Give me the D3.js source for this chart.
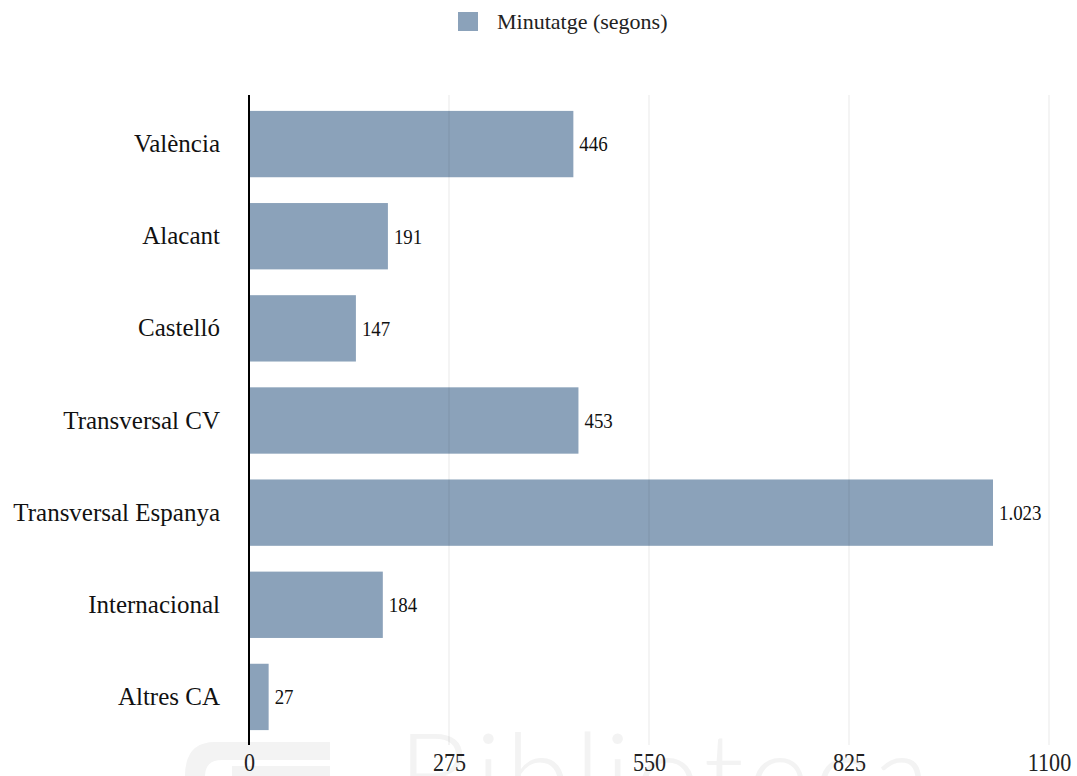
<!DOCTYPE html>
<html>
<head>
<meta charset="utf-8">
<script src="https://cdn.jsdelivr.net/npm/d3@7"></script>
<style>
  html, body { margin: 0; padding: 0; background: #ffffff; }
  svg { display: block; }
  .serif { font-family: "Liberation Serif", Tinos, "Times New Roman", "DejaVu Serif", serif; }
</style>
</head>
<body>
<script>
const categories = ["València", "Alacant", "Castelló", "Transversal CV", "Transversal Espanya", "Internacional", "Altres CA"];
const values = [446, 191, 147, 453, 1023, 184, 27];
const valueLabels = ["446", "191", "147", "453", "1.023", "184", "27"];
const tickValues = [0, 275, 550, 825, 1100];
const tickLabels = ["0", "275", "550", "825", "1100"];
const seriesName = "Minutatge (segons)";

const W = 1077, H = 776;
const svg = d3.select("body").append("svg").attr("width", W).attr("height", H);

const barColor = "#8ba2ba";

// faint watermark
const wm = svg.append("g").attr("fill", "#f3f3f3");
wm.append("text").attr("x", 398).attr("y", 818)
  .attr("font-family", "Lato, 'Open Sans', sans-serif").attr("font-weight", 300)
  .attr("font-size", 118).attr("letter-spacing", 4).text("Biblioteca");
wm.append("path")
  .attr("d", "M330,742 H215 Q185,742 185,776 H205 Q205,760 222,760 H330 Z");
wm.append("rect").attr("x", 232).attr("y", 766).attr("width", 98).attr("height", 10);

const x = d3.scaleLinear().domain([0, 1100]).range([249, 1049]);
const y = d3.scaleBand().domain(categories).range([98, 743]).paddingInner(0.28).paddingOuter(0.14);

// bars
svg.append("g").selectAll("rect").data(values).join("rect")
  .attr("x", x(0))
  .attr("y", (d, i) => y(categories[i]))
  .attr("width", d => x(d) - x(0))
  .attr("height", y.bandwidth())
  .attr("fill", barColor);

// gridlines (faint, visible through bars)
svg.append("g").selectAll("line").data(tickValues.slice(1)).join("line")
  .attr("x1", d => x(d)).attr("x2", d => x(d))
  .attr("y1", 95).attr("y2", 745)
  .attr("stroke", "rgba(0,0,0,0.09)").attr("stroke-width", 1);

// zero axis line
svg.append("line").attr("x1", x(0)).attr("x2", x(0)).attr("y1", 95).attr("y2", 745)
  .attr("stroke", "#000").attr("stroke-width", 2);

// x axis tick labels (slightly condensed, like the reference)
const xAxis = d3.axisBottom(x).tickValues(tickValues).tickSize(0)
  .tickFormat((d, i) => tickLabels[i]);
const gx = svg.append("g").attr("transform", "translate(0,750)").call(xAxis)
  .attr("font-family", null).attr("font-size", null);
gx.select(".domain").remove();
gx.selectAll("text").attr("class", "serif").style("font-size", "26px")
  .attr("transform", "scale(0.85,1)").attr("fill", "#222");

// category labels
const yAxis = d3.axisLeft(y).tickSize(0).tickPadding(0);
const gy = svg.append("g").attr("transform", "translate(220,0)").call(yAxis)
  .attr("font-family", null).attr("font-size", null);
gy.select(".domain").remove();
gy.selectAll("text").attr("class", "serif").style("font-size", "25px").attr("fill", "#111");

// value labels
svg.append("g").selectAll("text").data(values).join("text")
  .attr("class", "serif")
  .attr("transform", (d, i) => `translate(${x(d) + 6},${y(categories[i]) + y.bandwidth() / 2}) scale(0.9,1)`)
  .attr("dy", "0.35em")
  .style("font-size", "21px").attr("fill", "#111")
  .text((d, i) => valueLabels[i]);

// legend
const lg = svg.append("g");
lg.append("rect").attr("x", 458).attr("y", 12).attr("width", 20).attr("height", 19).attr("fill", barColor);
lg.append("text").attr("class", "serif").attr("x", 497).attr("y", 21.5).attr("dy", "0.35em")
  .style("font-size", "22px").attr("fill", "#222").text(seriesName);
</script>
</body>
</html>
